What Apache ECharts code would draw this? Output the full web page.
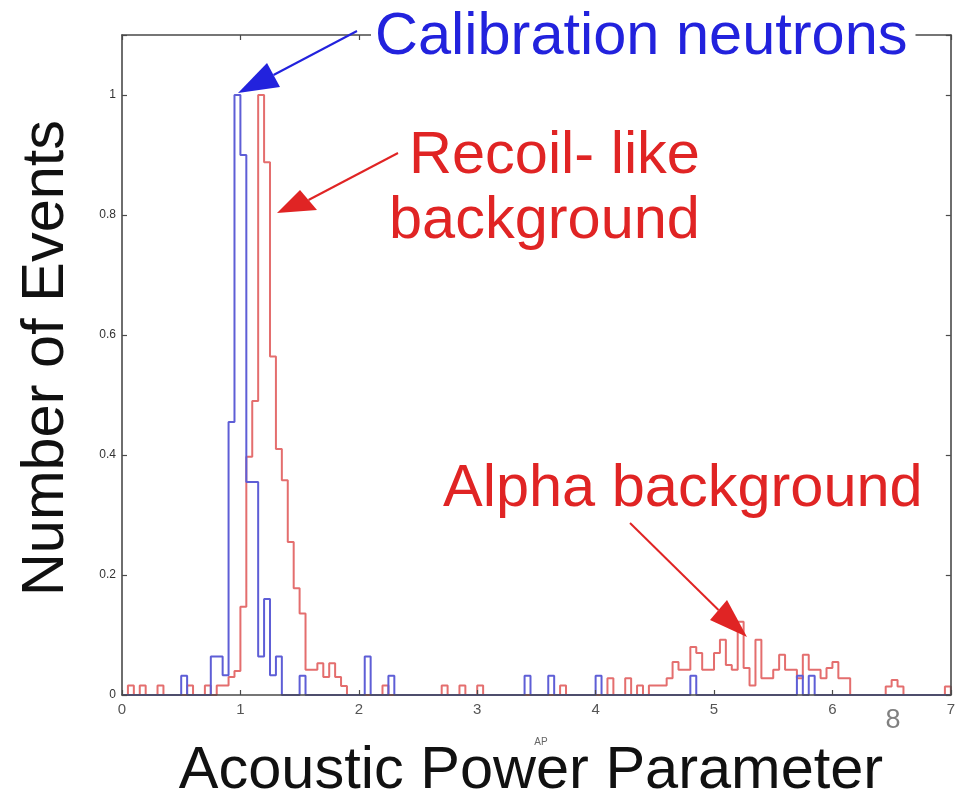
<!DOCTYPE html>
<html><head><meta charset="utf-8">
<script src="https://cdn.jsdelivr.net/npm/echarts@6/dist/echarts.min.js"></script>
<style>html,body{margin:0;padding:0;background:#fff}#c{width:958px;height:798px}</style>
</head><body><div id="c"></div>
<script>
// Histogram bin width on the AP axis
const binWidth = 0.05;
const xMin = 0, xMax = 7, yMax = 1.1;
// [bin start, normalized number of events]
const calibrationNeutrons = [
  [0.5,0.032],[0.75,0.064],[0.8,0.064],[0.85,0.033],[0.9,0.455],[0.95,1.0],[1.0,0.9],
  [1.05,0.355],[1.1,0.355],[1.15,0.064],[1.2,0.16],[1.25,0.033],[1.3,0.064],[1.5,0.032],
  [2.05,0.064],[2.25,0.032],[3.4,0.032],[3.6,0.032],[4.0,0.032],[4.8,0.032],[5.7,0.032],[5.8,0.032]
];
const recoilLikeBackground = [
  [0.05,0.016],[0.15,0.016],[0.3,0.016],[0.55,0.016],[0.7,0.016],[0.8,0.016],[0.85,0.016],
  [0.9,0.03],[0.95,0.04],[1.0,0.147],[1.05,0.397],[1.1,0.49],[1.15,1.0],[1.2,0.888],
  [1.25,0.564],[1.3,0.41],[1.35,0.358],[1.4,0.255],[1.45,0.178],[1.5,0.136],[1.55,0.042],
  [1.6,0.042],[1.65,0.053],[1.7,0.03],[1.75,0.053],[1.8,0.03],[1.85,0.015],[2.2,0.016],
  [2.7,0.016],[2.85,0.016],[3.0,0.016],[3.7,0.016],[4.1,0.028],[4.25,0.028],[4.35,0.016]
];
const alphaBackground = [
  [4.45,0.016],[4.5,0.016],[4.55,0.016],[4.6,0.028],[4.65,0.055],[4.7,0.042],[4.75,0.042],
  [4.8,0.08],[4.85,0.07],[4.9,0.042],[4.95,0.042],[5.0,0.07],[5.05,0.092],[5.1,0.05],
  [5.15,0.042],[5.2,0.122],[5.25,0.045],[5.3,0.016],[5.35,0.092],[5.4,0.028],[5.45,0.028],
  [5.5,0.042],[5.55,0.067],[5.6,0.042],[5.65,0.042],[5.7,0.028],[5.75,0.067],[5.8,0.042],
  [5.85,0.042],[5.9,0.028],[5.95,0.045],[6.0,0.055],[6.05,0.028],[6.1,0.028],
  [6.45,0.014],[6.5,0.025],[6.55,0.014],[6.95,0.014]
];
const texts = {
  calib: 'Calibration neutrons', recoil1: 'Recoil- like', recoil2: 'background',
  alpha: 'Alpha background', xName: 'Acoustic Power Parameter', yName: 'Number of Events',
  apLabel: 'AP', stray: '8'
};

function stairs(lists) {
  const map = new Map();
  lists.forEach(list => list.forEach(([s, v]) => map.set(Math.round(s / binWidth), v)));
  const n = Math.round((xMax - xMin) / binWidth);
  const pts = [[xMin, 0]];
  for (let i = 0; i < n; i++) pts.push([xMin + i * binWidth, map.get(i) || 0]);
  pts.push([xMax, 0]);
  return pts;
}

const BLUE = '#5e5ed6', RED = '#e46e6e';
const TXT_BLUE = '#2222dd', TXT_RED = '#e02424';
const FONT = 'Liberation Sans, Arial, sans-serif';
const BIG = '59.5px ' + FONT;
const axisCol = '#4a4a4a';

const chart = echarts.init(document.getElementById('c'), null, {renderer: 'canvas'});
function axisCommon() {
  return {
    axisLine: {show: true, onZero: false, lineStyle: {color: axisCol, width: 1.6}},
    axisTick: {show: true, inside: true, length: 5, lineStyle: {color: axisCol, width: 1.2}},
    splitLine: {show: false},
    z: 5
  };
}
const bigText = (text, x, y, color, extra) => Object.assign({
  type: 'text', x, y, z: 20,
  style: Object.assign({text, fill: color, font: BIG, textAlign: 'left', textVerticalAlign: 'middle'}, extra || {})
});
function arrow(x1, y1, tip, c1, c2, color) {
  const mx = (c1[0] + c2[0]) / 2, my = (c1[1] + c2[1]) / 2;
  return [
    {type: 'line', z: 19, shape: {x1, y1, x2: mx, y2: my}, style: {stroke: color, lineWidth: 2}},
    {type: 'polygon', z: 19, shape: {points: [tip, c1, c2]}, style: {fill: color}}
  ];
}

chart.setOption({
  animation: false,
  backgroundColor: '#fff',
  grid: {left: 122, right: 3, top: 35, bottom: 103},
  xAxis: [
    Object.assign({type: 'value', min: xMin, max: xMax, interval: 1, position: 'bottom',
      axisLabel: {color: '#555', fontSize: 15, margin: 7, fontFamily: FONT}}, axisCommon()),
    Object.assign({type: 'value', min: xMin, max: xMax, interval: 1, position: 'top',
      axisLabel: {show: false}}, axisCommon())
  ],
  yAxis: [
    Object.assign({type: 'value', min: 0, max: yMax, interval: 0.2, position: 'left',
      axisLabel: {color: '#333', fontSize: 12, margin: 6, fontFamily: FONT,
        formatter: v => v > 1.001 ? '' : String(Math.round(v * 10) / 10)}}, axisCommon()),
    Object.assign({type: 'value', min: 0, max: yMax, interval: 0.2, position: 'right',
      axisLabel: {show: false}}, axisCommon())
  ],
  series: [
    {name: 'background', type: 'line', step: 'end', symbol: 'none', clip: true,
     data: stairs([recoilLikeBackground, alphaBackground]), lineStyle: {color: RED, width: 2}, z: 2},
    {name: 'calibration', type: 'line', step: 'end', symbol: 'none', clip: true,
     data: stairs([calibrationNeutrons]), lineStyle: {color: BLUE, width: 2}, z: 3}
  ],
  graphic: [
    bigText(texts.calib, 371, 38, TXT_BLUE, {backgroundColor: '#fff', padding: [0, 8, 0, 4]}),
    bigText(texts.recoil1, 409, 157, TXT_RED),
    bigText(texts.recoil2, 389, 222, TXT_RED),
    bigText(texts.alpha, 443, 490, TXT_RED),
    {type: 'text', x: 531, y: 772, z: 20, style: {text: texts.xName, fill: '#111', font: BIG, textAlign: 'center', textVerticalAlign: 'middle'}},
    {type: 'text', x: 47, y: 358, rotation: Math.PI / 2, z: 20, style: {text: texts.yName, fill: '#111', font: BIG, textAlign: 'center', textVerticalAlign: 'middle'}},
    {type: 'text', x: 541, y: 742, z: 20, style: {text: texts.apLabel, fill: '#666', font: '10px ' + FONT, textAlign: 'center', textVerticalAlign: 'middle'}},
    {type: 'text', x: 893, y: 721, z: 20, style: {text: texts.stray, fill: '#808080', font: '27px ' + FONT, textAlign: 'center', textVerticalAlign: 'middle'}},
    ...arrow(357, 31, [238, 93], [267, 63], [280, 87], TXT_BLUE),
    ...arrow(398, 153, [277, 213], [300, 190], [317, 210], TXT_RED),
    ...arrow(630, 523, [747, 637], [710, 620], [727, 600], TXT_RED)
  ]
});
</script></body></html>
